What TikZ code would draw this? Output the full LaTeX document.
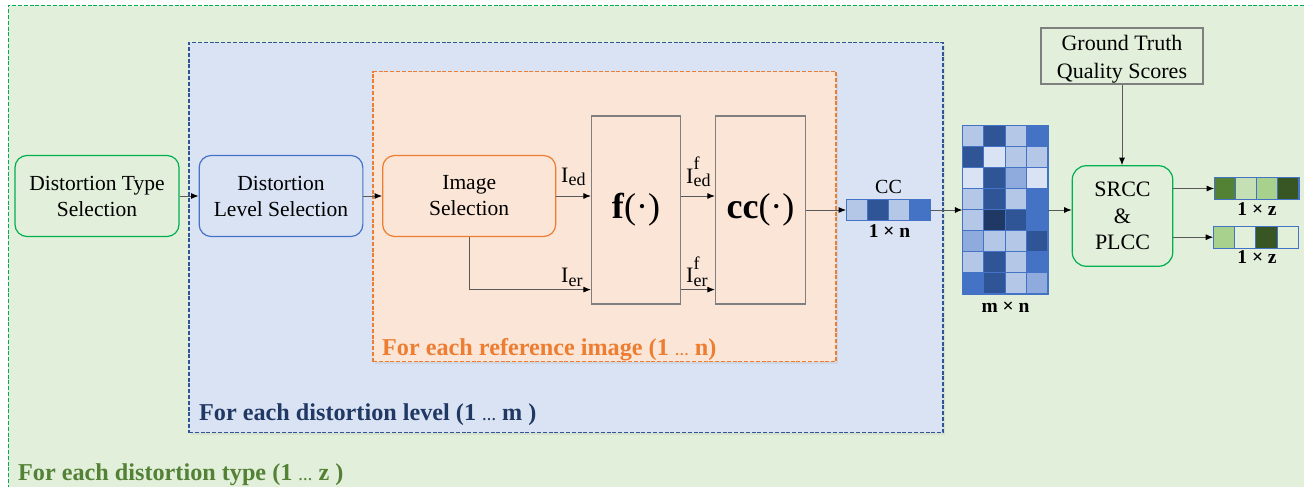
\documentclass[tikz,border=0pt]{standalone}
\usepackage{fontspec}
\setmainfont{Liberation Serif}
\usetikzlibrary{arrows.meta,shadows}
\definecolor{gbg}{HTML}{E2EFDA}
\definecolor{bbg}{HTML}{DAE3F3}
\definecolor{obg}{HTML}{FBE5D6}
\definecolor{gline}{HTML}{00B050}
\definecolor{bline}{HTML}{4472C4}
\definecolor{bdash}{HTML}{2F5597}
\definecolor{oline}{HTML}{ED7D31}
\definecolor{grayline}{HTML}{7F7F7F}
\definecolor{arrline}{HTML}{595959}
\definecolor{gtext}{HTML}{538135}
\definecolor{btext}{HTML}{203864}
\definecolor{mA}{HTML}{B4C7E7}
\definecolor{mB}{HTML}{2F5597}
\definecolor{mC}{HTML}{4472C4}
\definecolor{mD}{HTML}{DAE3F3}
\definecolor{mE}{HTML}{8FAADC}
\definecolor{mF}{HTML}{1F3864}
\definecolor{gA}{HTML}{548235}
\definecolor{gB}{HTML}{C5E0B4}
\definecolor{gC}{HTML}{A9D18E}
\definecolor{gD}{HTML}{375623}
\definecolor{gE}{HTML}{E2F0D9}
\newcommand\Isub[1]{I\raisebox{-3.5pt}{\fontsize{18}{18}\selectfont #1}}
\newcommand\Isubsup[2]{I\rlap{\raisebox{13.5pt}{\fontsize{18}{18}\selectfont #2}}\raisebox{-3.5pt}{\fontsize{18}{18}\selectfont #1}}
\newcommand\smalldots{{\fontsize{14}{14}\selectfont …}}
\tikzset{
  frame/.style={dash pattern=on 4pt off 1.8pt, line width=1.2pt, inner sep=0pt, anchor=north west},
  procbox/.style={draw, rounded corners=12pt, line width=1.2pt, align=center,
    font=\fontsize{21.5}{26}\selectfont, inner sep=0pt, minimum height=81pt},
  funcbox/.style={draw=grayline, line width=1.2pt, minimum width=89pt, minimum height=188pt,
    inner sep=0pt, font=\fontsize{36}{36}\selectfont},
  arr/.style={draw=arrline, line width=0.9pt, -{Latex[length=7.5pt,width=6pt,color=black]}},
  cell/.style={draw=bline, line width=0.8pt},
  vecbox/.style={inner sep=0pt, minimum height=21pt},
  sizelbl/.style={anchor=base, inner sep=0pt, font=\fontsize{19.5}{19.5}\selectfont\bfseries},
  looplbl/.style={anchor=base west, inner sep=0pt, font=\fontsize{24.2}{26}\selectfont\bfseries},
  ilbl/.style={anchor=base west, inner sep=0pt, font=\fontsize{22}{22}\selectfont},
}
\begin{document}
\begin{tikzpicture}[x=1pt,y=-1pt]
\useasboundingbox (0,0) rectangle (1304,487);
\clip (0,0) rectangle (1304,487);
\fill[white] (0,0) rectangle (1304,487);
% loop frames
\node[frame, draw=gline, fill=gbg, minimum width=1320pt, minimum height=500pt] (typeframe) at (7.5,5) {};
\node[frame, draw=bdash, fill=bbg, minimum width=754pt, minimum height=390pt,
  drop shadow={opacity=0.12,shadow xshift=2pt,shadow yshift=-2.5pt}] (levelframe) at (188.3,42) {};
\node[frame, draw=oline, fill=obg, minimum width=463pt, minimum height=290pt,
  drop shadow={opacity=0.12,shadow xshift=2pt,shadow yshift=-2.5pt}] (imgframe) at (372.3,71) {};
% loop labels
\node[looplbl, text=oline] (olbl) at (382,355) {For each reference image (1 \smalldots\ n)};
\node[looplbl, text=btext] (blbl) at (199,420) {For each distortion level (1 \smalldots\ m )};
\node[looplbl, text=gtext] (glbl) at (18,480) {For each distortion type (1 \smalldots\ z )};
% process boxes
\node[procbox, draw=gline, minimum width=164pt] (dts) at (97,196) {Distortion Type\\Selection};
\node[procbox, draw=bline, minimum width=163.7pt] (dls) at (281,196) {Distortion\\Level Selection};
\node[procbox, draw=oline, minimum width=173pt] (ims) at (469.2,196) {Image\\Selection};
\node[funcbox] (fbox) at (636,210) {\textbf{f}(·)};
\node[funcbox, minimum width=90pt] (ccbox) at (760.5,210) {\textbf{cc}(·)};
\node[draw=grayline, line width=1.2pt, minimum width=162pt, minimum height=56pt, inner sep=0pt,
  label={[font=\fontsize{22}{28}\selectfont, align=center, yshift=-3pt]center:Ground Truth\\Quality Scores}]
  (gt) at (1122,56) {};
\node[procbox, draw=gline, rounded corners=14pt, minimum width=100.5pt, minimum height=100.5pt,
  font=\fontsize{22}{26.3}\selectfont] (src) at (1122.5,216) {SRCC\\\&\\PLCC};
% vectors and matrix
\node[vecbox, minimum width=84pt] (ccvec) at (888.3,210) {};
\foreach \c [count=\k from 0] in {mA,mB,mA,mC}
  \draw[cell, fill=\c, shift={(ccvec.north west)}] (\k*21,0) rectangle ++(21,21);
\draw[cell] (ccvec.north west) rectangle (ccvec.south east);
\node[vecbox, minimum width=85.32pt, minimum height=168pt] (mat) at (1005.3,210) {};
\foreach \row [count=\r from 0] in {{mA,mB,mA,mC},{mB,mD,mA,mA},{mD,mB,mE,mD},{mA,mB,mA,mC},
    {mA,mF,mB,mC},{mE,mA,mA,mB},{mA,mB,mA,mC},{mC,mB,mA,mE}}
  \foreach \c [count=\k from 0] in \row
    \draw[cell, fill=\c, shift={(mat.north west)}] (\k*21.33,\r*21) rectangle ++(21.33,21);
\draw[cell] (mat.north west) rectangle (mat.south east);
\node[vecbox, minimum width=84.4pt, minimum height=21.6pt] (out1) at (1256.5,188.5) {};
\foreach \c [count=\k from 0] in {gA,gB,gC,gD}
  \draw[cell, fill=\c, shift={(out1.north west)}] (\k*21.1,0) rectangle ++(21.1,21.6);
\draw[cell] (out1.north west) rectangle (out1.south east);
\node[vecbox, minimum width=85.2pt, minimum height=22pt] (out2) at (1256,237.2) {};
\foreach \c [count=\k from 0] in {gC,gE,gD,gE}
  \draw[cell, fill=\c, shift={(out2.north west)}] (\k*21.3,0) rectangle ++(21.3,22);
\draw[cell] (out2.north west) rectangle (out2.south east);
% small labels
\node[anchor=base, inner sep=0pt, font=\fontsize{20}{20}\selectfont] (cclbl) at (888.5,193) {CC};
\node[sizelbl] (nlbl) at (889.5,237) {1 × n};
\node[sizelbl] (mnlbl) at (1005.5,312.5) {m × n};
\node[sizelbl] (z1lbl) at (1257,215) {1 × z};
\node[sizelbl] (z2lbl) at (1257,263.5) {1 × z};
\node[ilbl] (ied) at (561,182) {\Isub{ed}};
\node[ilbl] (ier) at (561,282.5) {\Isub{er}};
\node[ilbl] (iedf) at (686,183) {\Isubsup{ed}{f}};
\node[ilbl] (ierf) at (686,282.7) {\Isubsup{er}{f}};
% connectors
\draw[arr] (dts) -- (dls);
\draw[arr] (dls) -- (ims);
\draw[arr] (ims.east) -- (ims.east -| fbox.west);
\draw[arr] (ims.south) |- ([yshift=15pt]fbox.south west);
\draw[arr] ([yshift=14pt]fbox.east) -- ([yshift=14pt]ccbox.west);
\draw[arr] ([yshift=15pt]fbox.south east) -- ([yshift=15pt]ccbox.south west);
\draw[arr] (ccbox) -- (ccvec);
\draw[arr] (ccvec) -- (mat);
\draw[arr] (mat.east) -- (mat.east -| src.west);
\draw[arr] (gt.south) -- (gt.south |- src.north);
\draw[arr] (src.east |- out1) -- (out1.west);
\draw[arr] (src.east |- out2) -- (out2.west);
\end{tikzpicture}
\end{document}
